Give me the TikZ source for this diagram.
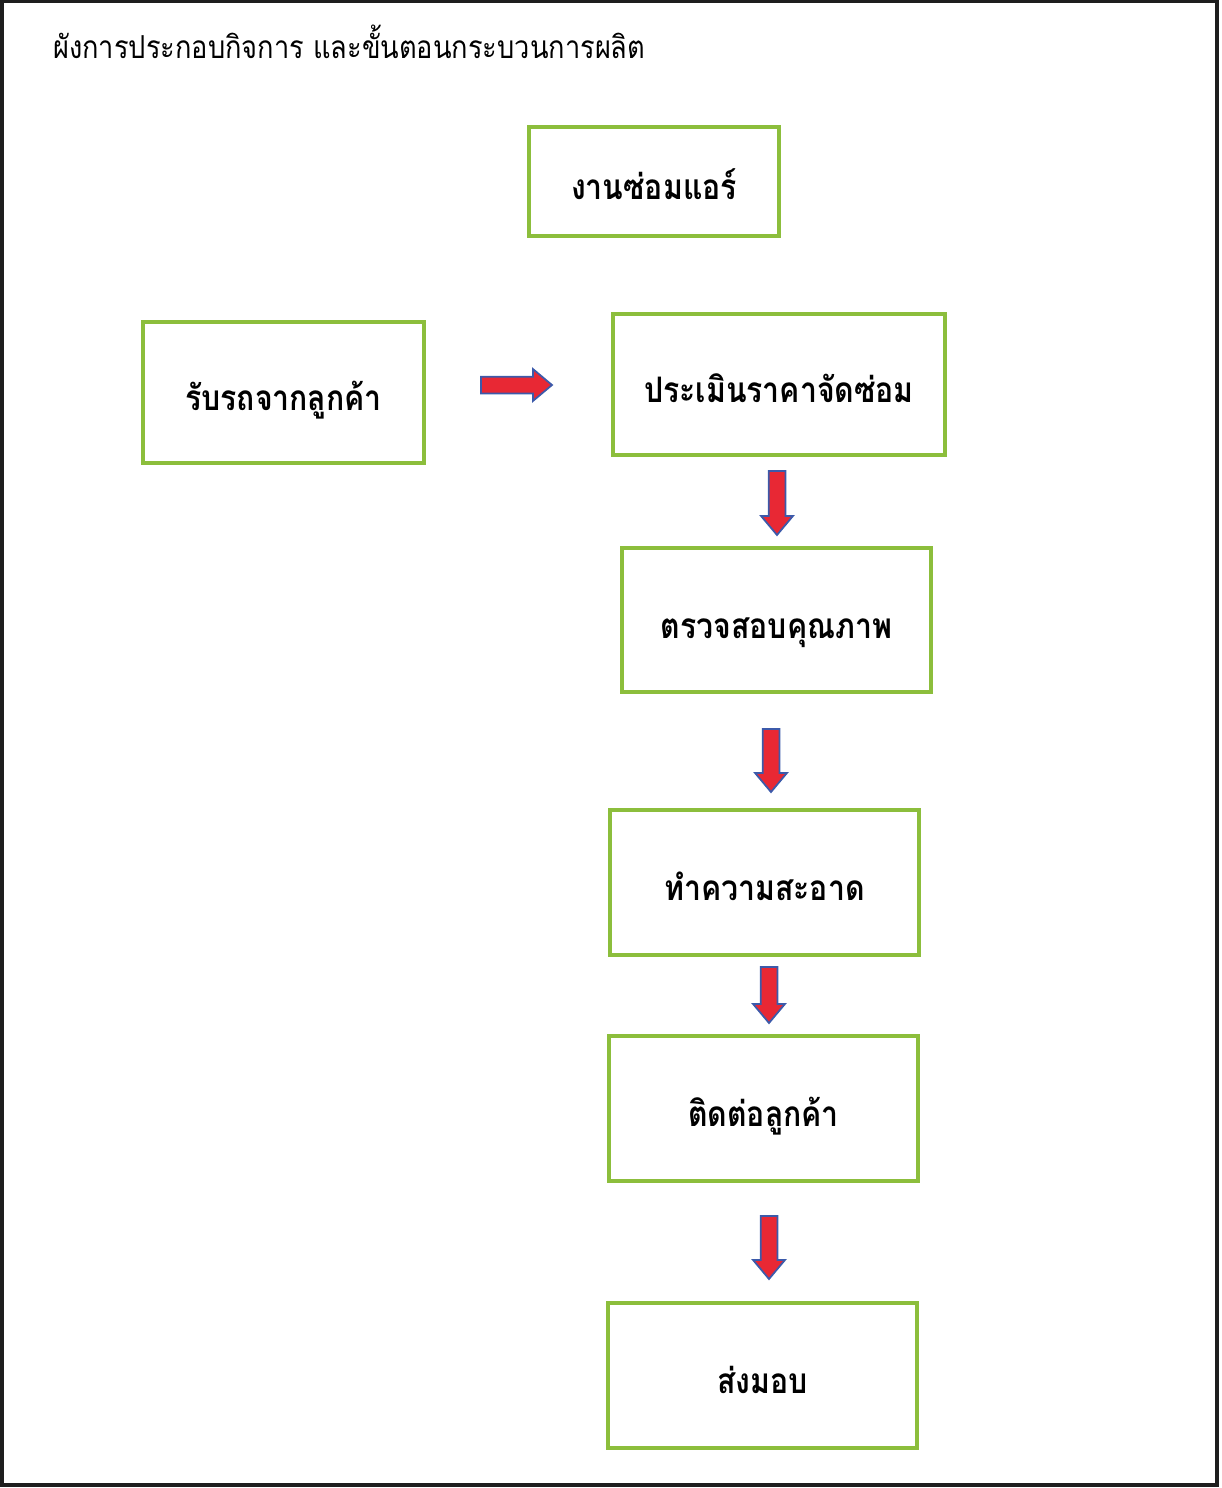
\documentclass[tikz,border=0pt]{standalone}
\usepackage{fontspec}
\newfontfamily\thaifont[Script=Thai,FakeStretch=0.86]{Loma}
\usetikzlibrary{shapes.arrows}
\definecolor{boxgreen}{RGB}{140,190,60}
\definecolor{arrowred}{RGB}{232,40,52}
\definecolor{arrowblue}{RGB}{60,90,170}
\definecolor{framegray}{RGB}{30,30,30}

\begin{document}
\begin{tikzpicture}[x=0.02cm,y=-0.02cm]
  \tikzstyle{stepbox}=[draw=boxgreen,line width=2.5pt,text height=0.72cm,text depth=0pt,font=\thaifont\bfseries\fontsize{20}{24}\selectfont]
  \tikzstyle{blockarrow}=[single arrow,draw=arrowblue,fill=arrowred,line width=1pt,inner xsep=0pt,inner ysep=0.15cm,minimum width=0.6cm,single arrow head extend=0.15cm,single arrow tip angle=80]
  \useasboundingbox (0,0) rectangle (1221,1488);
  \draw[framegray,line width=1.8pt] (2,1) rectangle (1217,1485);

  \node[anchor=base west,font=\thaifont\fontsize{18}{22}\selectfont] (title) at (47,58) {ผังการประกอบกิจการ และขั้นตอนกระบวนการผลิต};

  \node[stepbox,minimum width=5cm,minimum height=2.18cm] (job) at (654,181.5) {งานซ่อมแอร์};
  \node[stepbox,minimum width=5.62cm,minimum height=2.82cm] (receive) at (283.5,392.5) {รับรถจากลูกค้า};
  \node[stepbox,minimum width=6.64cm,minimum height=2.82cm] (quote) at (779,384.5) {ประเมินราคาจัดซ่อม};
  \node[stepbox,minimum width=6.18cm,minimum height=2.88cm] (check) at (776.5,620) {ตรวจสอบคุณภาพ};
  \node[stepbox,minimum width=6.18cm,minimum height=2.9cm] (clean) at (764.5,882.5) {ทำความสะอาด};
  \node[stepbox,minimum width=6.18cm,minimum height=2.9cm] (contact) at (763.5,1108.5) {ติดต่อลูกค้า};
  \node[stepbox,minimum width=6.18cm,minimum height=2.9cm] (deliver) at (762.5,1375.5) {ส่งมอบ};

  \node[blockarrow,minimum height=1.42cm] (a1) at (511.5,385) {};
  \node[blockarrow,minimum height=1.28cm,rotate=-90] (a2) at (777,498) {};
  \node[blockarrow,minimum height=1.26cm,rotate=-90] (a3) at (771,755.5) {};
  \node[blockarrow,minimum height=1.12cm,rotate=-90] (a4) at (769,990) {};
  \node[blockarrow,minimum height=1.26cm,rotate=-90] (a5) at (769,1242.5) {};
\end{tikzpicture}
\end{document}
